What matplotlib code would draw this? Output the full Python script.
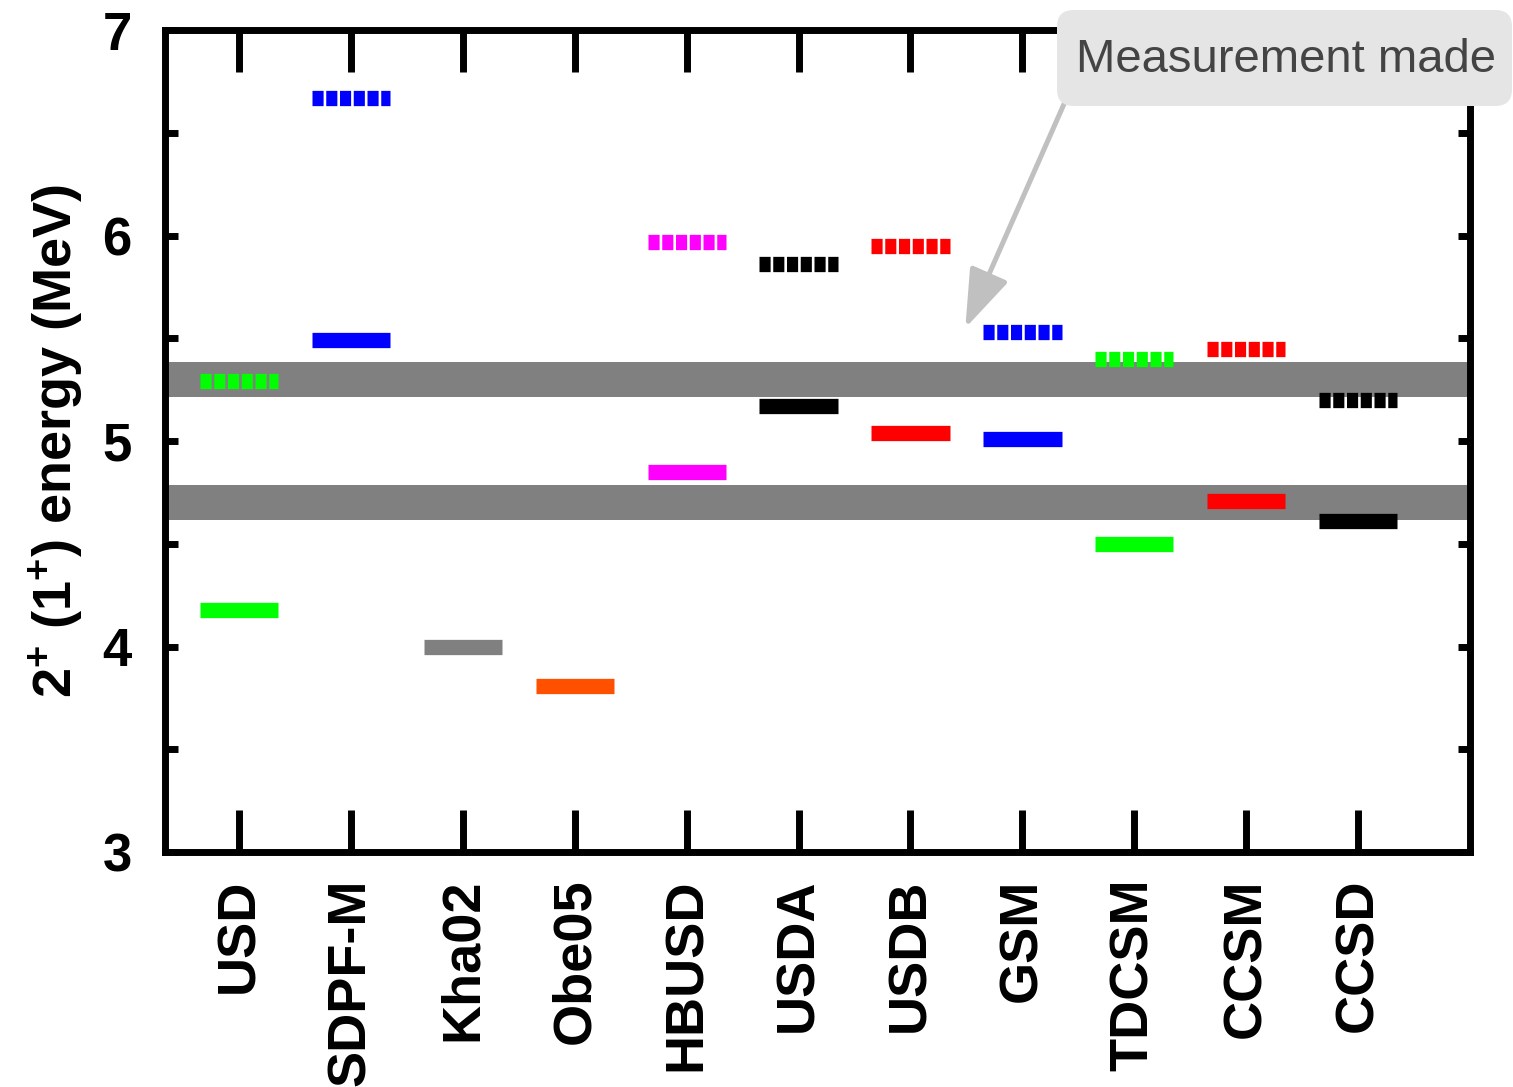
import matplotlib
matplotlib.use("Agg")
import matplotlib.pyplot as plt
from matplotlib.ticker import MultipleLocator
from matplotlib.patches import FancyBboxPatch

plt.rcParams['font.family'] = ['Liberation Sans', 'DejaVu Sans']
plt.rcParams['mathtext.fontset'] = 'custom'
plt.rcParams['mathtext.rm'] = 'Liberation Sans:bold'
plt.rcParams['mathtext.bf'] = 'Liberation Sans:bold'
plt.rcParams['lines.scale_dashes'] = False

# Shell-model / theory predictions for each interaction
models = ['USD', 'SDPF-M', 'Kha02', 'Obe05', 'HBUSD', 'USDA', 'USDB',
          'GSM', 'TDCSM', 'CCSM', 'CCSD']
energy_1plus = [4.18, 5.49, 4.00, 3.81, 4.85, 5.17, 5.04, 5.01, 4.50, 4.71, 4.61]
energy_2plus = [5.29, 6.67, None, None, 5.97, 5.86, 5.95, 5.53, 5.40, 5.45, 5.20]
model_colors = ['#00ff00', '#0000ff', '#808080', '#ff5000', '#ff00ff', '#000000',
                '#ff0000', '#0000ff', '#00ff00', '#ff0000', '#000000']

# Experimental levels (centre, half-width of uncertainty band)
exp_levels = [5.30, 4.70]
exp_halfwidth = [0.085, 0.085]

W, H = 1513, 1087
fig = plt.figure(figsize=(W / 100, H / 100), dpi=100)
ax = fig.add_axes([165 / W, 1 - 852 / H, (1470 - 165) / W, (852 - 30) / H])

for c, h in zip(exp_levels, exp_halfwidth):
    ax.axhspan(c - h, c + h, color='#808080', lw=0, zorder=1)

half = 0.35
for i, (e1, e2, col) in enumerate(zip(energy_1plus, energy_2plus, model_colors)):
    x = i + 1
    ax.plot([x - half, x + half], [e1, e1], color=col, lw=11,
            solid_capstyle='butt', zorder=3)
    if e2 is not None:
        ax.plot([x - half, x + half], [e2, e2], color=col, lw=11,
                linestyle=(0, (8.0, 1.9)), dash_capstyle='butt', zorder=3)

ax.set_xlim(0.338, 12.0)
ax.set_ylim(3, 7)
ax.set_xticks(range(1, len(models) + 1))
ax.set_xticklabels(models, rotation=90, fontsize=39, fontweight='bold')
ax.yaxis.set_major_locator(MultipleLocator(1))
ax.yaxis.set_minor_locator(MultipleLocator(0.5))
for lab in ax.get_yticklabels():
    lab.set_fontweight('bold')

ax.tick_params(axis='x', which='major', direction='in', length=30, width=5,
               top=True, bottom=True, pad=19)
ax.tick_params(axis='y', which='both', direction='in', length=9, width=5,
               left=True, right=True, pad=24)
ax.tick_params(axis='y', which='major', labelsize=38)
for sp in ax.spines.values():
    sp.set_linewidth(5)

ax.set_ylabel(r'2$^{+}$ (1$^{+}$) energy (MeV)', fontsize=39, fontweight='bold',
              labelpad=12)

# Callout box with arrow pointing into the plot
box = FancyBboxPatch((1057 / W, 1 - 106 / H), (1512 - 1057) / W, (106 - 10) / H,
                     boxstyle='round,pad=0,rounding_size=0.011',
                     transform=fig.transFigure, fc='#e5e5e5', ec='none',
                     zorder=5, mutation_aspect=W / H)
fig.patches.append(box)
fig.text(1286 / W, 1 - 60 / H, 'Measurement made', ha='center', va='center',
         fontsize=34, color='#444444', zorder=6)
ax.annotate('', xy=(7.49, 5.55), xycoords='data',
            xytext=(1064 / W, 1 - 104 / H), textcoords='figure fraction',
            arrowprops=dict(arrowstyle='-|>,head_length=3.6,head_width=1.26',
                            mutation_scale=10, color='#c0c0c0', lw=3.6,
                            shrinkA=0, shrinkB=0),
            zorder=4, annotation_clip=False)

fig.savefig('out.png', dpi=100)
